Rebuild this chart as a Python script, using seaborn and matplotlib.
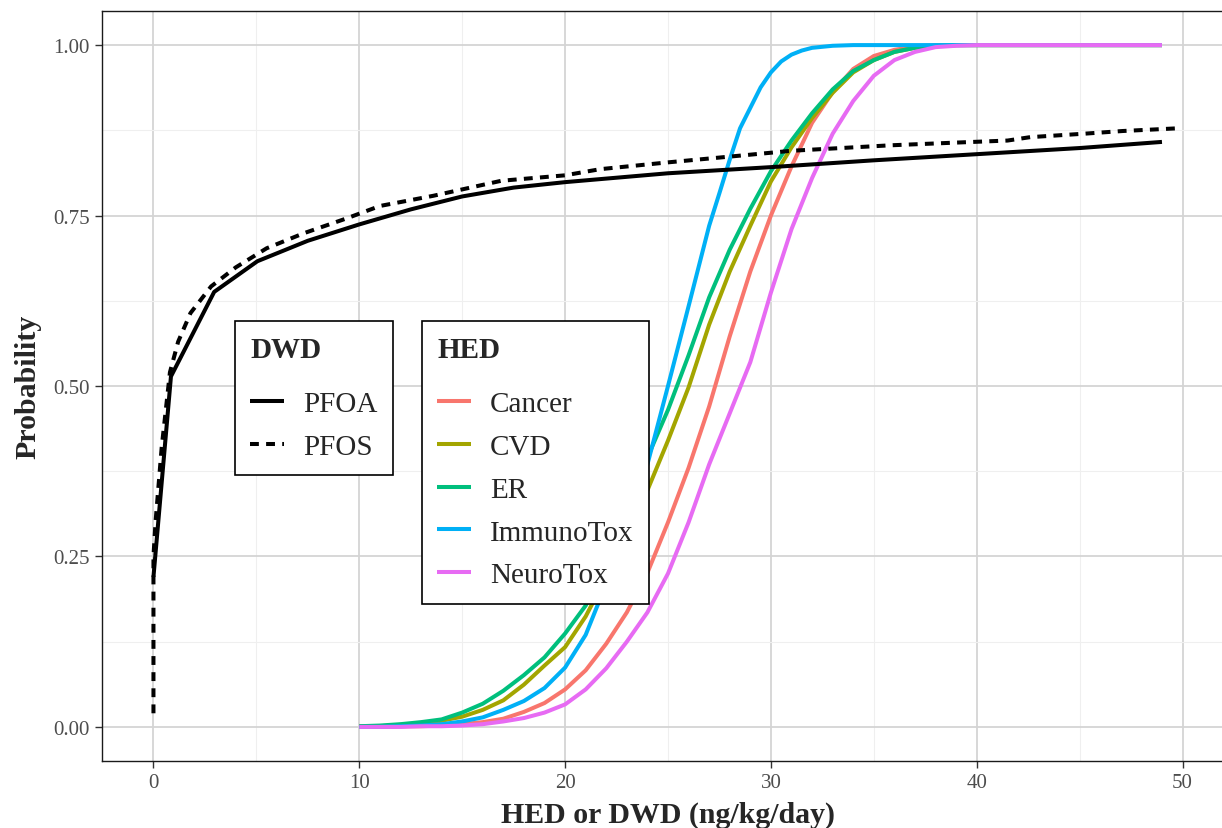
import numpy as np
import pandas as pd
import matplotlib
matplotlib.use("Agg")
import matplotlib.pyplot as plt
from matplotlib.lines import Line2D
from matplotlib.ticker import MultipleLocator
import seaborn as sns

# ---------------- data ----------------
hed_dose = [10, 11, 12, 13, 14, 15, 16, 17, 18, 19, 20, 21, 22, 23, 24, 25, 26, 27, 28,
            29, 30, 31, 32, 33, 34, 35, 36, 37, 38, 39, 40, 45, 49]
cancer = [0, 0, 0.001, 0.001, 0.002, 0.004, 0.007, 0.012, 0.022, 0.035, 0.055, 0.083, 0.122,
          0.168, 0.226, 0.30, 0.38, 0.47, 0.573, 0.668, 0.75, 0.822, 0.886, 0.931, 0.965,
          0.984, 0.993, 0.998, 1, 1, 1, 1, 1]
cvd = [0.001, 0.001, 0.003, 0.005, 0.009, 0.015, 0.025, 0.039, 0.062, 0.09, 0.117, 0.162,
       0.22, 0.285, 0.347, 0.42, 0.498, 0.59, 0.668, 0.735, 0.80, 0.85, 0.893, 0.93, 0.96,
       0.978, 0.99, 0.996, 0.999, 1, 1, 1, 1]
er = [0.001, 0.002, 0.004, 0.007, 0.011, 0.021, 0.034, 0.053, 0.076, 0.102, 0.137, 0.178,
      0.24, 0.315, 0.395, 0.465, 0.545, 0.63, 0.70, 0.760, 0.815, 0.860, 0.900, 0.935, 0.962,
      0.978, 0.99, 0.996, 0.999, 1, 1, 1, 1]
neurotox = [0, 0, 0, 0.001, 0.001, 0.002, 0.004, 0.008, 0.013, 0.021, 0.033, 0.055, 0.086,
            0.125, 0.168, 0.225, 0.30, 0.385, 0.46, 0.535, 0.637, 0.73, 0.805, 0.87, 0.918,
            0.955, 0.978, 0.99, 0.997, 0.999, 1, 1, 1]
# ImmunoTox is read more densely around its sharp shoulder
immuno_dose = [10, 11, 12, 13, 14, 15, 16, 17, 18, 19, 20, 21, 22, 23, 24, 25, 26, 27, 27.5,
               28, 28.5, 29, 29.5, 30, 30.5, 31, 31.5, 32, 33, 34, 35, 40, 45, 49]
immunotox = [0, 0, 0.001, 0.002, 0.004, 0.008, 0.014, 0.025, 0.038, 0.057, 0.087, 0.135,
             0.21, 0.29, 0.385, 0.50, 0.617, 0.735, 0.783, 0.832, 0.878, 0.908, 0.938,
             0.960, 0.976, 0.986, 0.992, 0.996, 0.999, 1, 1, 1, 1, 1]
hed_names = ["Cancer", "CVD", "ER", "ImmunoTox", "NeuroTox"]

pfoa_dose = [0, 0.85, 2.95, 5.05, 7.5, 10, 12.5, 15, 17.5, 20, 25, 30, 35, 40, 45, 49]
pfoa_prob = [0.22, 0.514, 0.638, 0.683, 0.713, 0.737, 0.759, 0.778, 0.791, 0.799, 0.812,
             0.821, 0.831, 0.840, 0.849, 0.858]
pfos_dose = [0, 0, 0.1, 0.4, 0.8, 1.2, 1.8, 2.8, 4.0, 5.5, 7.3, 9.4, 11, 13.6, 16.9, 20,
             21.7, 25, 28.9, 31, 35.8, 39, 41.5, 42.6, 45.2, 47.1, 49.8]
pfos_prob = [0.02, 0.25, 0.30, 0.41, 0.52, 0.565, 0.607, 0.646, 0.674, 0.702, 0.724, 0.746,
             0.764, 0.779, 0.801, 0.809, 0.818, 0.828, 0.839, 0.845, 0.853, 0.857, 0.86,
             0.865, 0.87, 0.874, 0.878]

x_ticks = [0, 10, 20, 30, 40, 50]
y_ticks = [0.00, 0.25, 0.50, 0.75, 1.00]
y_tick_labels = ["0.00", "0.25", "0.50", "0.75", "1.00"]

# ---------------- frames ----------------
hed_doses = {"Cancer": hed_dose, "CVD": hed_dose, "ER": hed_dose,
             "ImmunoTox": immuno_dose, "NeuroTox": hed_dose}
hed_probs = {"Cancer": cancer, "CVD": cvd, "ER": er,
             "ImmunoTox": immunotox, "NeuroTox": neurotox}
hed_df = pd.concat([
    pd.DataFrame({"dose": hed_doses[n], "prob": hed_probs[n], "endpoint": n})
    for n in hed_names
], ignore_index=True)
dwd_df = pd.DataFrame({
    "dose": pfoa_dose + pfos_dose,
    "prob": pfoa_prob + pfos_prob,
    "chem": ["PFOA"] * len(pfoa_dose) + ["PFOS"] * len(pfos_dose),
})

palette = {"Cancer": "#F8766D", "CVD": "#A3A500", "ER": "#00BF7D",
           "ImmunoTox": "#00B0F6", "NeuroTox": "#E76BF3"}

# ---------------- style ----------------
sns.set_theme(style="white")
plt.rcParams["font.family"] = ["Liberation Serif", "DejaVu Serif"]
plt.rcParams["lines.solid_capstyle"] = "butt"
plt.rcParams["lines.dash_capstyle"] = "butt"

W, H = 1222, 829
fig = plt.figure(figsize=(W / 100, H / 100), dpi=100)
# panel extends slightly past the right edge of the picture, as in the reference
L, R, T, B = 102, 1234, 12, 762
ax = fig.add_axes([L / W, 1 - B / H, (R - L) / W, (B - T) / H])

LW = 2.9
DASH = (2.2, 1.8)
sns.lineplot(data=hed_df, x="dose", y="prob", hue="endpoint", palette=palette,
             hue_order=hed_names, estimator=None, linewidth=LW, legend=False, ax=ax)
sns.lineplot(data=dwd_df, x="dose", y="prob", style="chem", style_order=["PFOA", "PFOS"],
             dashes={"PFOA": "", "PFOS": DASH}, color="black", estimator=None,
             linewidth=LW, legend=False, ax=ax)

ax.set_xlim(-2.5, 52.5)
ax.set_ylim(-0.05, 1.05)
ax.set_xticks(x_ticks)
ax.set_yticks(y_ticks)
ax.set_yticklabels(y_tick_labels)
ax.xaxis.set_minor_locator(MultipleLocator(5))
ax.yaxis.set_minor_locator(MultipleLocator(0.125))
ax.grid(which="major", color="#d4d4d4", linewidth=1.3)
ax.grid(which="minor", color="#efefef", linewidth=0.8)
ax.set_axisbelow(True)
for s in ax.spines.values():
    s.set_color("#1a1a1a")
    s.set_linewidth(1.0)
ax.tick_params(which="major", axis="both", length=5, width=1.0, color="#333333",
               labelsize=15, labelcolor="#4D4D4D", pad=4, bottom=True, left=True)
ax.tick_params(which="minor", length=0)

ax.set_xlabel("HED or DWD (ng/kg/day)", fontsize=21.5, fontweight="bold", labelpad=6)
ax.set_ylabel("Probability", fontsize=21.5, fontweight="bold", labelpad=8)

# ---------------- legends ----------------
leg_kw = dict(loc="upper left", bbox_transform=fig.transFigure, borderaxespad=0,
              fancybox=False, framealpha=1, edgecolor="black", fontsize=21,
              title_fontproperties={"weight": "bold", "size": 21},
              handlelength=1.16, handletextpad=0.65, labelspacing=0.56,
              borderpad=0.52, alignment="left")

dwd_handles = [Line2D([], [], color="black", lw=LW, linestyle="-", solid_capstyle="butt"),
               Line2D([], [], color="black", lw=LW, linestyle=(0, DASH), dash_capstyle="butt")]
leg1 = ax.legend(dwd_handles, ["PFOA", "PFOS"], title="DWD",
                 bbox_to_anchor=(235 / W, 1 - 322 / H), **leg_kw)
leg1._legend_box.sep = 20
leg1.get_frame().set_linewidth(1.2)
ax.add_artist(leg1)

hed_handles = [Line2D([], [], color=palette[n], lw=LW, solid_capstyle="butt")
               for n in hed_names]
leg2 = ax.legend(hed_handles, hed_names, title="HED",
                 bbox_to_anchor=(422 / W, 1 - 322 / H), **leg_kw)
leg2._legend_box.sep = 20
leg2.get_frame().set_linewidth(1.2)

fig.savefig("out.png", dpi=100)
